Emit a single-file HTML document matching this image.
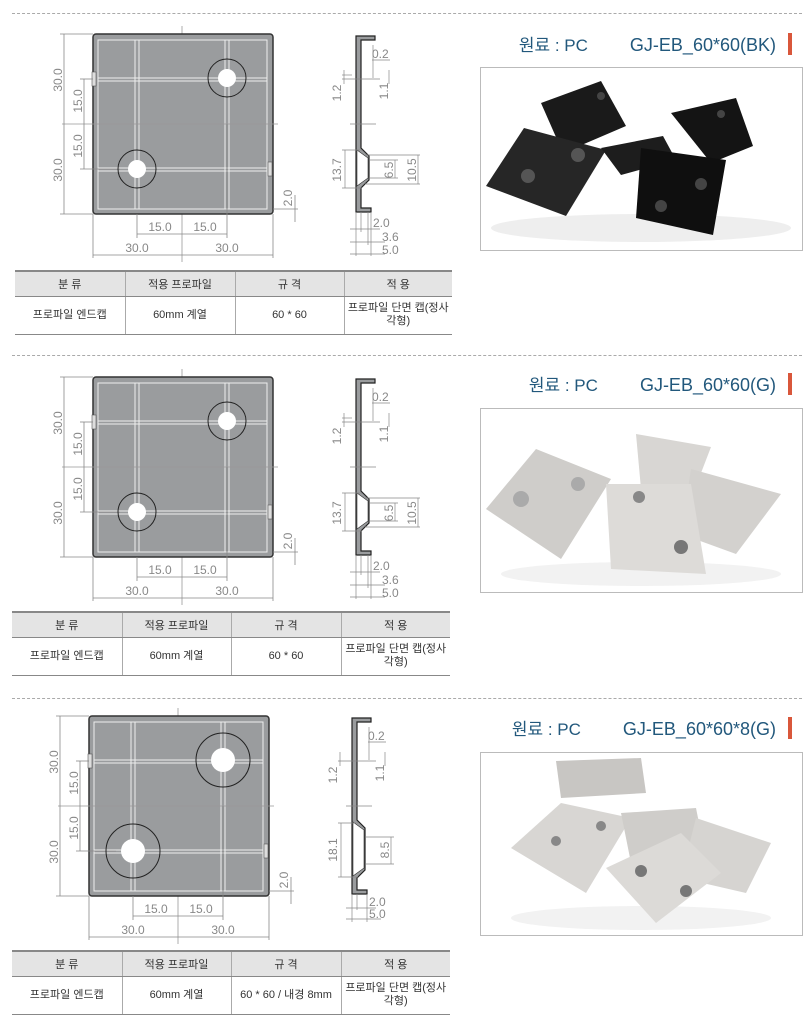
<!DOCTYPE html>
<html><head><meta charset="utf-8"><style>
*{margin:0;padding:0;box-sizing:border-box}
body{width:806px;height:1017px;background:#fff;position:relative;overflow:hidden;font-family:"Liberation Sans","Noto Sans CJK KR",sans-serif}
.dash{position:absolute;left:12px;width:790px;border-top:1px dashed #aaa}
.ttl{position:absolute;right:14px;font-size:18px;color:#22587c;white-space:nowrap;font-family:"Liberation Sans","Noto Sans CJK KR",sans-serif}
.ttl b{font-weight:normal;margin-right:42px;font-size:17px}
.ttl i{display:inline-block;width:4px;height:22px;background:#d9573b;margin-left:12px;vertical-align:-4px}
table{position:absolute;border-collapse:collapse;font-size:11px;color:#333;table-layout:fixed}
th{background:#e4e4e4;font-weight:normal;height:25px;border-right:1px solid #aaa;border-top:2px solid #888;border-bottom:1px solid #888}
td{height:38px;text-align:center;border-right:1px solid #aaa;border-bottom:1px solid #888;line-height:13px}
th:last-child,td:last-child{border-right:none}
.img{position:absolute;left:480px;width:323px;border:1px solid #bbb;background:#fff}
svg text{font-family:"Liberation Sans",sans-serif;font-size:12px;fill:#888}
</style></head><body>
<div class="dash" style="top:13px"></div>
<div class="dash" style="top:355px"></div>
<div class="dash" style="top:698px"></div>

<div class="ttl" style="top:31px"><b>원료 : PC</b>GJ-EB_60*60(BK)<i></i></div>
<div class="ttl" style="top:371px"><b>원료 : PC</b>GJ-EB_60*60(G)<i></i></div>
<div class="ttl" style="top:715px"><b>원료 : PC</b>GJ-EB_60*60*8(G)<i></i></div>

<svg width="806" height="1017" style="position:absolute;left:0;top:0">
<defs>
<g id="plate">
 <line x1="182" y1="26" x2="182" y2="262" stroke="#999" stroke-width="0.8"/>
 <rect x="93" y="34" width="180" height="180" rx="3" fill="#9a9c9e" stroke="#333" stroke-width="1.5"/>
 <g stroke="#eee" stroke-width="1" fill="none">
  <rect x="98" y="40" width="169" height="169"/>
  <line x1="135" y1="40" x2="135" y2="209"/><line x1="139" y1="40" x2="139" y2="209"/>
  <line x1="225" y1="40" x2="225" y2="209"/><line x1="229" y1="40" x2="229" y2="209"/>
  <line x1="98" y1="78" x2="267" y2="78"/><line x1="98" y1="81" x2="267" y2="81"/>
  <line x1="98" y1="168" x2="267" y2="168"/><line x1="98" y1="171" x2="267" y2="171"/>
 </g>
 <line x1="62" y1="124" x2="278" y2="124" stroke="#999" stroke-width="0.8"/>
 <rect x="92" y="72" width="4" height="14" fill="#ddd" stroke="#555" stroke-width="0.6"/>
 <rect x="268" y="162" width="4" height="14" fill="#ddd" stroke="#555" stroke-width="0.6"/>
 <g stroke="#888" stroke-width="0.8" fill="none">
  <line x1="64" y1="34" x2="64" y2="214"/><line x1="60" y1="34" x2="93" y2="34"/><line x1="60" y1="214" x2="93" y2="214"/>
  <line x1="84" y1="79" x2="84" y2="169"/><line x1="80" y1="79" x2="93" y2="79"/><line x1="80" y1="169" x2="120" y2="169"/>
  <line x1="137" y1="214" x2="137" y2="238"/><line x1="227" y1="124" x2="227" y2="238"/>
  <line x1="137" y1="234" x2="227" y2="234"/>
  <line x1="93" y1="214" x2="93" y2="258"/><line x1="273" y1="214" x2="273" y2="258"/>
  <line x1="93" y1="255" x2="273" y2="255"/>
  <line x1="273" y1="209" x2="298" y2="209"/><line x1="295" y1="195" x2="295" y2="222"/>
 </g>
</g>
<g id="side">
 <path d="M356,36 L375,36 L375,40 L361,40 L361,148 L369,156 L369,180 L361,188 L361,208 L371,208 L371,212 L356,212 Z" fill="#9a9c9e" stroke="#222" stroke-width="1.2"/>
 <path d="M357,150 L368,158 L368,178 L357,186 Z" fill="#fff" stroke="#333" stroke-width="0.6"/>
 <g stroke="#888" stroke-width="0.7" fill="none">
  <line x1="342" y1="79" x2="380" y2="79"/><line x1="342" y1="75" x2="352" y2="75"/>
  <line x1="344" y1="70" x2="344" y2="84"/><line x1="389" y1="70" x2="389" y2="84"/>
  <line x1="372" y1="60" x2="390" y2="60"/><line x1="373" y1="45" x2="373" y2="78"/>
  <line x1="350" y1="124" x2="376" y2="124"/>
  <line x1="342" y1="150" x2="362" y2="150"/><line x1="342" y1="188" x2="362" y2="188"/><line x1="345" y1="150" x2="345" y2="188"/>
  <line x1="370" y1="160" x2="398" y2="160"/><line x1="370" y1="178" x2="398" y2="178"/><line x1="395" y1="160" x2="395" y2="178"/>
  <line x1="365" y1="155" x2="420" y2="155"/><line x1="365" y1="184" x2="420" y2="184"/><line x1="418" y1="155" x2="418" y2="184"/>
  <line x1="356" y1="212" x2="356" y2="256"/><line x1="361" y1="212" x2="361" y2="232"/><line x1="368" y1="212" x2="368" y2="245"/><line x1="371" y1="212" x2="371" y2="256"/>
  <line x1="350" y1="229" x2="380" y2="229"/><line x1="350" y1="242" x2="385" y2="242"/><line x1="350" y1="254" x2="385" y2="254"/>
 </g>
</g>
</defs>

<use href="#plate"/>
<circle cx="227" cy="78" r="19" fill="none" stroke="#222" stroke-width="1"/><circle cx="227" cy="78" r="9" fill="#fff"/>
<circle cx="137" cy="169" r="19" fill="none" stroke="#222" stroke-width="1"/><circle cx="137" cy="169" r="9" fill="#fff"/>
<use href="#side"/>
<g>
<text transform="translate(62,80) rotate(-90)" text-anchor="middle">30.0</text>
<text transform="translate(62,170) rotate(-90)" text-anchor="middle">30.0</text>
<text transform="translate(82,101) rotate(-90)" text-anchor="middle">15.0</text>
<text transform="translate(82,146) rotate(-90)" text-anchor="middle">15.0</text>
<text x="160" y="231" text-anchor="middle">15.0</text><text x="205" y="231" text-anchor="middle">15.0</text>
<text x="137" y="252" text-anchor="middle">30.0</text><text x="227" y="252" text-anchor="middle">30.0</text>
<text transform="translate(292,198) rotate(-90)" text-anchor="middle">2.0</text>
<text x="372" y="58">0.2</text>
<text transform="translate(341,93) rotate(-90)" text-anchor="middle">1.2</text>
<text transform="translate(388,91) rotate(-90)" text-anchor="middle">1.1</text>
<text transform="translate(341,170) rotate(-90)" text-anchor="middle">13.7</text>
<text transform="translate(393,170) rotate(-90)" text-anchor="middle">6.5</text>
<text transform="translate(416,170) rotate(-90)" text-anchor="middle">10.5</text>
<text x="373" y="227">2.0</text><text x="382" y="241">3.6</text><text x="382" y="254">5.0</text>
</g>

<g transform="translate(0,343)">
<use href="#plate"/>
<circle cx="227" cy="78" r="19" fill="none" stroke="#222" stroke-width="1"/><circle cx="227" cy="78" r="9" fill="#fff"/>
<circle cx="137" cy="169" r="19" fill="none" stroke="#222" stroke-width="1"/><circle cx="137" cy="169" r="9" fill="#fff"/>
<use href="#side"/>
<text transform="translate(62,80) rotate(-90)" text-anchor="middle">30.0</text>
<text transform="translate(62,170) rotate(-90)" text-anchor="middle">30.0</text>
<text transform="translate(82,101) rotate(-90)" text-anchor="middle">15.0</text>
<text transform="translate(82,146) rotate(-90)" text-anchor="middle">15.0</text>
<text x="160" y="231" text-anchor="middle">15.0</text><text x="205" y="231" text-anchor="middle">15.0</text>
<text x="137" y="252" text-anchor="middle">30.0</text><text x="227" y="252" text-anchor="middle">30.0</text>
<text transform="translate(292,198) rotate(-90)" text-anchor="middle">2.0</text>
<text x="372" y="58">0.2</text>
<text transform="translate(341,93) rotate(-90)" text-anchor="middle">1.2</text>
<text transform="translate(388,91) rotate(-90)" text-anchor="middle">1.1</text>
<text transform="translate(341,170) rotate(-90)" text-anchor="middle">13.7</text>
<text transform="translate(393,170) rotate(-90)" text-anchor="middle">6.5</text>
<text transform="translate(416,170) rotate(-90)" text-anchor="middle">10.5</text>
<text x="373" y="227">2.0</text><text x="382" y="241">3.6</text><text x="382" y="254">5.0</text>
</g>

<g transform="translate(-4,682)">
<use href="#plate"/>
<circle cx="227" cy="78" r="27" fill="none" stroke="#222" stroke-width="1"/><circle cx="227" cy="78" r="12" fill="#fff"/>
<circle cx="137" cy="169" r="27" fill="none" stroke="#222" stroke-width="1"/><circle cx="137" cy="169" r="12" fill="#fff"/>
<path d="M356,36 L375,36 L375,40 L361,40 L361,138 L369,146 L369,188 L361,196 L361,208 L371,208 L371,212 L356,212 Z" fill="#9a9c9e" stroke="#222" stroke-width="1.2"/>
<path d="M357,140 L368,148 L368,186 L357,194 Z" fill="#fff" stroke="#333" stroke-width="0.6"/>
<g stroke="#888" stroke-width="0.7" fill="none">
  <line x1="342" y1="79" x2="380" y2="79"/><line x1="344" y1="70" x2="344" y2="84"/><line x1="389" y1="70" x2="389" y2="84"/>
  <line x1="372" y1="60" x2="390" y2="60"/><line x1="373" y1="45" x2="373" y2="78"/>
  <line x1="350" y1="124" x2="376" y2="124"/>
  <line x1="342" y1="141" x2="362" y2="141"/><line x1="342" y1="195" x2="362" y2="195"/><line x1="345" y1="141" x2="345" y2="195"/>
  <line x1="370" y1="155" x2="398" y2="155"/><line x1="370" y1="182" x2="398" y2="182"/><line x1="395" y1="155" x2="395" y2="182"/>
  <line x1="356" y1="212" x2="356" y2="240"/><line x1="361" y1="212" x2="361" y2="228"/><line x1="371" y1="212" x2="371" y2="240"/>
  <line x1="350" y1="226" x2="380" y2="226"/><line x1="350" y1="237" x2="385" y2="237"/>
</g>
<text transform="translate(62,80) rotate(-90)" text-anchor="middle">30.0</text>
<text transform="translate(62,170) rotate(-90)" text-anchor="middle">30.0</text>
<text transform="translate(82,101) rotate(-90)" text-anchor="middle">15.0</text>
<text transform="translate(82,146) rotate(-90)" text-anchor="middle">15.0</text>
<text x="160" y="231" text-anchor="middle">15.0</text><text x="205" y="231" text-anchor="middle">15.0</text>
<text x="137" y="252" text-anchor="middle">30.0</text><text x="227" y="252" text-anchor="middle">30.0</text>
<text transform="translate(292,198) rotate(-90)" text-anchor="middle">2.0</text>
<text x="372" y="58">0.2</text>
<text transform="translate(341,93) rotate(-90)" text-anchor="middle">1.2</text>
<text transform="translate(388,91) rotate(-90)" text-anchor="middle">1.1</text>
<text transform="translate(341,168) rotate(-90)" text-anchor="middle">18.1</text>
<text transform="translate(393,168) rotate(-90)" text-anchor="middle">8.5</text>
<text x="373" y="224">2.0</text><text x="373" y="236">5.0</text>
</g>
</svg>

<table style="left:15px;top:270px;width:437px"><colgroup><col style="width:110px"><col style="width:110px"><col style="width:109px"><col style="width:108px"></colgroup>
<tr><th>분 류</th><th>적용 프로파일</th><th>규 격</th><th>적 용</th></tr>
<tr><td>프로파일 엔드캡</td><td>60mm 계열</td><td>60 * 60</td><td>프로파일 단면 캡(정사<br>각형)</td></tr></table>
<table style="left:12px;top:611px;width:438px"><colgroup><col style="width:110px"><col style="width:109px"><col style="width:110px"><col style="width:109px"></colgroup>
<tr><th>분 류</th><th>적용 프로파일</th><th>규 격</th><th>적 용</th></tr>
<tr><td>프로파일 엔드캡</td><td>60mm 계열</td><td>60 * 60</td><td>프로파일 단면 캡(정사<br>각형)</td></tr></table>
<table style="left:12px;top:950px;width:438px"><colgroup><col style="width:110px"><col style="width:109px"><col style="width:110px"><col style="width:109px"></colgroup>
<tr><th>분 류</th><th>적용 프로파일</th><th>규 격</th><th>적 용</th></tr>
<tr><td>프로파일 엔드캡</td><td>60mm 계열</td><td>60 * 60 / 내경 8mm</td><td>프로파일 단면 캡(정사<br>각형)</td></tr></table>

<div class="img" style="top:67px;height:184px"><svg width="321" height="182">
<ellipse cx="160" cy="160" rx="150" ry="14" fill="#eee"/>
<polygon points="60,35 120,13 145,58 82,85" fill="#1a1a1a"/>
<polygon points="5,118 43,60 125,82 85,148" fill="#262626"/>
<polygon points="120,80 182,68 195,92 140,107" fill="#1d1d1d"/>
<polygon points="190,45 255,30 272,78 230,95" fill="#141414"/>
<polygon points="160,80 245,92 232,167 155,150" fill="#0f0f0f"/>
<circle cx="220" cy="116" r="6" fill="#444"/><circle cx="180" cy="138" r="6" fill="#444"/>
<circle cx="97" cy="87" r="7" fill="#555"/><circle cx="47" cy="108" r="7" fill="#555"/>
<circle cx="120" cy="28" r="4" fill="#444"/><circle cx="240" cy="46" r="4" fill="#444"/>
</svg></div>
<div class="img" style="top:408px;height:185px"><svg width="321" height="183">
<ellipse cx="160" cy="165" rx="140" ry="12" fill="#f2f2f2"/>
<polygon points="5,100 55,40 130,70 80,150" fill="#cfcdca"/>
<polygon points="155,25 230,38 210,90 160,80" fill="#d8d6d3"/>
<polygon points="210,60 300,85 255,145 200,125" fill="#d3d1ce"/>
<polygon points="125,75 210,75 225,165 130,160" fill="#dddbd8"/>
<circle cx="40" cy="90" r="8" fill="#aaa"/><circle cx="97" cy="75" r="7" fill="#aaa"/>
<circle cx="200" cy="138" r="7" fill="#777"/><circle cx="158" cy="88" r="6" fill="#888"/>
</svg></div>
<div class="img" style="top:752px;height:184px"><svg width="321" height="182">
<ellipse cx="160" cy="165" rx="130" ry="12" fill="#f2f2f2"/>
<polygon points="75,8 160,5 165,40 80,45" fill="#c8c6c3"/>
<polygon points="30,95 80,50 150,65 105,140" fill="#d8d6d3"/>
<polygon points="140,60 215,55 225,105 150,110" fill="#cfcdca"/>
<polygon points="215,65 290,90 265,140 200,125" fill="#d6d4d1"/>
<polygon points="125,115 200,80 240,120 175,170" fill="#dcdad7"/>
<circle cx="160" cy="118" r="6" fill="#777"/><circle cx="205" cy="138" r="6" fill="#777"/>
<circle cx="75" cy="88" r="5" fill="#888"/><circle cx="120" cy="73" r="5" fill="#888"/>
</svg></div>
</body></html>
